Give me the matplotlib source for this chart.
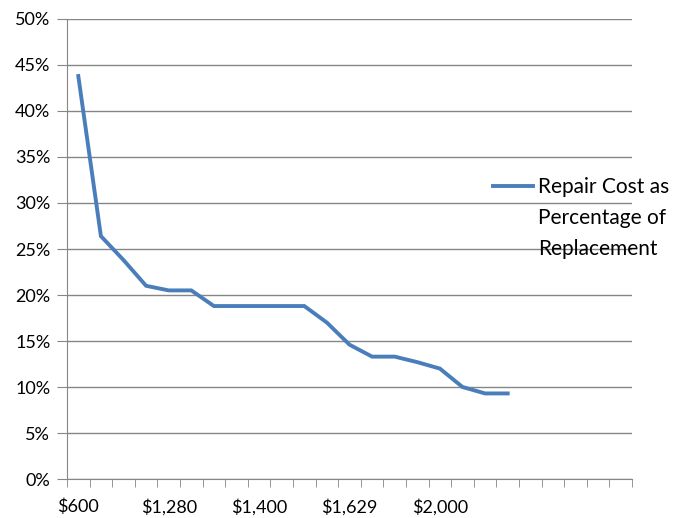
import matplotlib
matplotlib.use('Agg')
import matplotlib.pyplot as plt
from matplotlib.lines import Line2D
from matplotlib.ticker import FuncFormatter, MultipleLocator

# repair cost as % of replacement, one value per price point
pct = [43.8, 26.4, 23.8, 21.0, 20.5, 20.5, 18.8, 18.8, 18.8, 18.8,
       18.8, 17.0, 14.6, 13.3, 13.3, 12.7, 12.0, 10.0, 9.3, 9.3]
n_cats = 25  # axis has room for 25 categories, only 20 filled
tick_labels = ['$600', '$1,280', '$1,400', '$1,629', '$2,000']
label_step = 4
series_name = 'Repair Cost as\nPercentage of\nReplacement'

plt.rcParams['font.family'] = ['Lato', 'DejaVu Sans']
grey = '#868686'
blue = '#4A7EBB'

fig = plt.figure(figsize=(6.73, 5.18), dpi=100)
ax = fig.add_axes([67/673, 1 - 479/518, (632 - 67)/673, (479 - 19)/518])

x = list(range(len(pct)))
ax.plot(x, pct, color=blue, lw=2.8, solid_joinstyle='miter')

ax.set_xlim(-0.5, n_cats - 0.5)
ax.set_ylim(0, 50)
ax.yaxis.set_major_locator(MultipleLocator(5))
ax.yaxis.set_major_formatter(FuncFormatter(lambda v, p: f'{v:.0f}%'))
ax.grid(axis='y', color=grey, lw=1)
ax.set_axisbelow(True)

ax.set_xticks([i * label_step for i in range(len(tick_labels))])
ax.set_xticklabels(tick_labels)
ax.set_xticks([i - 0.5 for i in range(n_cats + 1)], minor=True)
ax.tick_params(axis='x', which='major', length=0, pad=14, labelsize=13)
ax.tick_params(axis='x', which='minor', length=6, color=grey, direction='out')
ax.tick_params(axis='y', length=7, color=grey, pad=5, labelsize=13)

for s in ['top', 'right']:
    ax.spines[s].set_visible(False)
for s in ['left', 'bottom']:
    ax.spines[s].set_color(grey)

# legend drawn by hand: handle aligned with the first text line
fig.add_artist(Line2D([493/673, 533/673], [1 - 186/518] * 2, color=blue, lw=2.8,
                      transform=fig.transFigure))
fig.text(538/673, 1 - 177/518, series_name, fontsize=15, va='top', ha='left',
         linespacing=1.68)

fig.savefig('out.png', dpi=100)
